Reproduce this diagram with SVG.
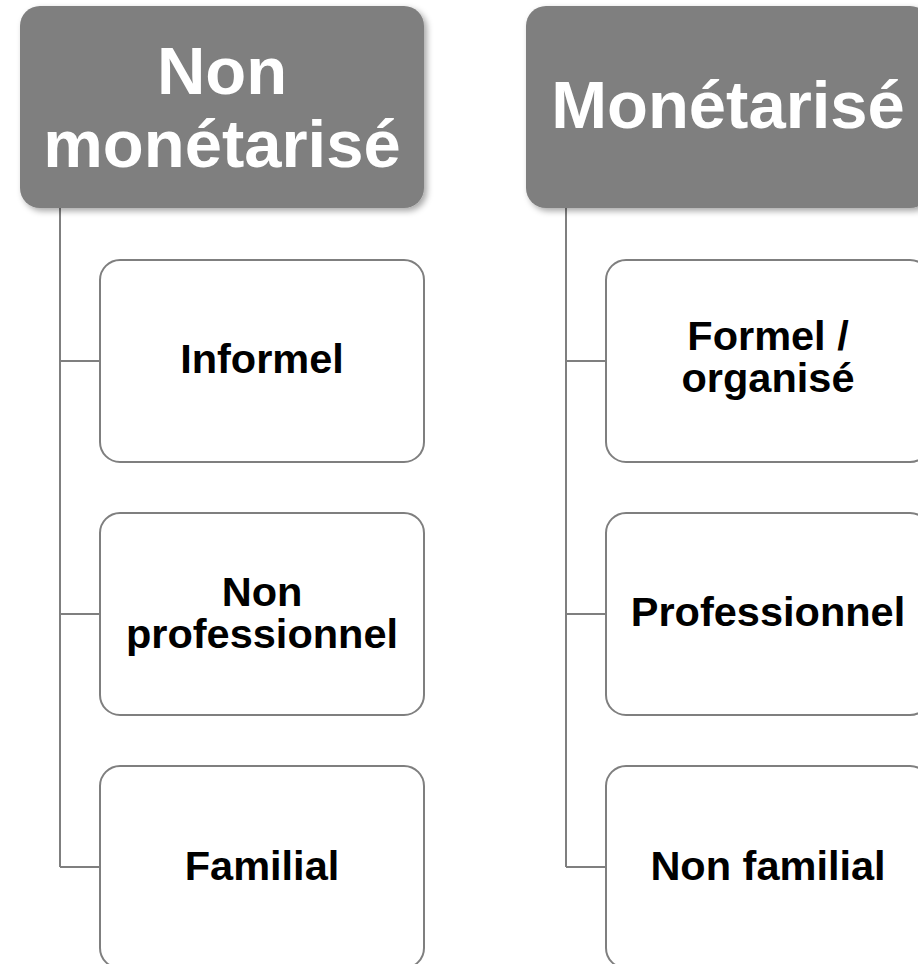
<svg xmlns="http://www.w3.org/2000/svg" width="918" height="964" viewBox="0 0 918 964">
<defs>
<filter id="sh" x="-10%" y="-10%" width="125%" height="130%">
<feDropShadow dx="3" dy="3" stdDeviation="3" flood-color="#000" flood-opacity="0.35"/>
</filter>
</defs>
<style>
.hdr{fill:#7f7f7f;filter:url(#sh)}
.ht{font-family:"Liberation Sans",Arial,sans-serif;font-weight:bold;font-size:67px;fill:#fff;text-anchor:middle}
.box{fill:#fff;stroke:#7f7f7f;stroke-width:2}
.ct{font-family:"Liberation Sans",Arial,sans-serif;font-weight:bold;font-size:41.5px;fill:#000;text-anchor:middle}
.con{fill:none;stroke:#7f7f7f;stroke-width:2}
</style>
<rect width="918" height="964" fill="#fff"/>
<g id="connectors">
<path class="con" d="M60 208 V867 M60 361 H100 M60 614 H100 M60 867 H100"/>
<path class="con" d="M566 208 V867 M566 361 H606 M566 614 H606 M566 867 H606"/>
</g>
<g id="h1">
<rect class="hdr" x="20" y="6" width="404" height="202" rx="20"/>
<text class="ht" x="222" y="94">Non</text>
<text class="ht" x="222" y="167">monétarisé</text>
</g>
<g id="h2">
<rect class="hdr" x="526" y="6" width="404" height="202" rx="20"/>
<text class="ht" x="728" y="128">Monétarisé</text>
</g>
<g id="l1">
<rect class="box" x="100" y="260" width="324" height="202" rx="20"/>
<text class="ct" x="262" y="373">Informel</text>
</g>
<g id="l2">
<rect class="box" x="100" y="513" width="324" height="202" rx="20"/>
<text class="ct" x="262" y="606">Non</text>
<text class="ct" x="262" y="648">professionnel</text>
</g>
<g id="l3">
<rect class="box" x="100" y="766" width="324" height="202" rx="20"/>
<text class="ct" x="262" y="880">Familial</text>
</g>
<g id="r1">
<rect class="box" x="606" y="260" width="324" height="202" rx="20"/>
<text class="ct" x="768" y="350">Formel /</text>
<text class="ct" x="768" y="392">organisé</text>
</g>
<g id="r2">
<rect class="box" x="606" y="513" width="324" height="202" rx="20"/>
<text class="ct" x="768" y="626">Professionnel</text>
</g>
<g id="r3">
<rect class="box" x="606" y="766" width="324" height="202" rx="20"/>
<text class="ct" x="768" y="880">Non familial</text>
</g>
</svg>
